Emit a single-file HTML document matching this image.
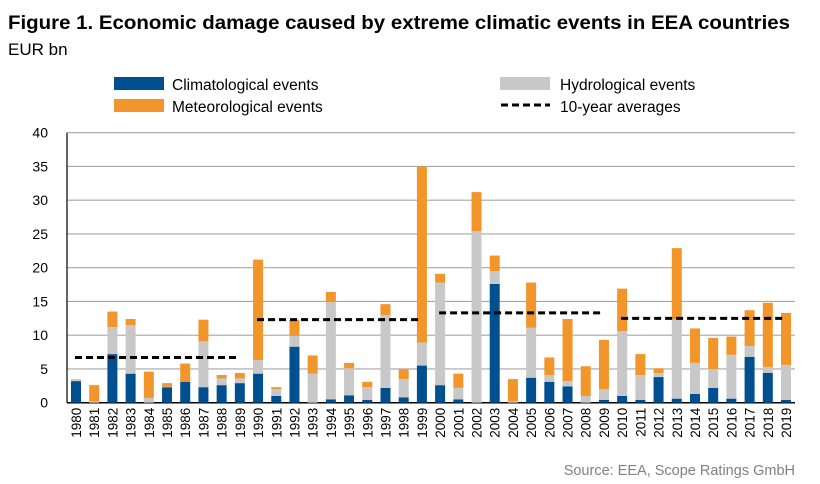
<!DOCTYPE html>
<html><head><meta charset="utf-8"><style>
body{margin:0;background:#fff;font-family:"Liberation Sans",Arial,sans-serif;}
svg{display:block}
</style></head><body>
<svg id="c" width="820" height="484">
<text x="8" y="29" font-size="19" font-weight="bold" fill="#000" textLength="782" lengthAdjust="spacingAndGlyphs">Figure 1. Economic damage caused by extreme climatic events in EEA countries</text>
<text x="8" y="55" font-size="17" fill="#000">EUR bn</text>
<g>
<rect x="114" y="77" width="50" height="13" fill="#004f8f"/>
<text x="172" y="90" font-size="15.5">Climatological events</text>
<rect x="114" y="99" width="50" height="13" fill="#f2952b"/>
<text x="172" y="112" font-size="15.5">Meteorological events</text>
<rect x="500" y="77" width="50" height="13" fill="#c8c8c8"/>
<text x="560" y="90" font-size="15.5">Hydrological events</text>
<line x1="501" y1="105" x2="550" y2="105" stroke="#000" stroke-width="3" stroke-dasharray="7,4"/>
<text x="560" y="112" font-size="15.5">10-year averages</text>
</g>
<g id="plot"></g>
<text x="795" y="475" font-size="14.5" fill="#808080" text-anchor="end">Source: EEA, Scope Ratings GmbH</text>
</svg>
<script>
const years=[1980,1981,1982,1983,1984,1985,1986,1987,1988,1989,1990,1991,1992,1993,1994,1995,1996,1997,1998,1999,2000,2001,2002,2003,2004,2005,2006,2007,2008,2009,2010,2011,2012,2013,2014,2015,2016,2017,2018,2019];
const climatological=[3.2,0,7.2,4.3,0,2.3,3.1,2.3,2.6,2.9,4.3,1.0,8.3,0,0.5,1.1,0.4,2.2,0.8,5.5,2.6,0.5,0,17.6,0,3.7,3.1,2.4,0,0.4,1.0,0.4,3.8,0.6,1.3,2.2,0.6,6.8,4.4,0.4];
const hydrological=[0.3,0.2,4.0,7.2,0.7,0.1,0,6.8,1.0,0.7,2.0,1.0,1.6,4.3,14.4,4.0,1.9,10.8,2.7,3.4,15.2,1.7,25.4,1.9,0.2,7.4,1.0,0.8,1.0,1.6,9.6,3.7,0.6,11.7,4.6,2.8,6.5,1.6,0.9,5.2];
const meteorological=[0,2.4,2.3,0.9,3.9,0.5,2.7,3.2,0.5,0.8,14.9,0.3,2.4,2.7,1.5,0.8,0.8,1.6,1.5,26.1,1.3,2.1,5.8,2.3,3.3,6.7,2.6,9.2,4.4,7.3,6.3,3.1,0.7,10.6,5.1,4.6,2.7,5.3,9.5,7.7];
const avgPeriods=[[1980,1989],[1990,1999],[2000,2009],[2010,2019]];
const avgValues=[6.7,12.3,13.3,12.5];
const yTicks=[0,5,10,15,20,25,30,35,40];
const NS="http://www.w3.org/2000/svg";
const g=document.getElementById('plot');
const x0=67,x1=795,yB=402.7,yT=132.7;
const step=(786-76)/39;
function xs(i){return 76+i*step;}
function ys(v){return yB-(v/40)*(yB-yT);}
function mk(t,a){const e=document.createElementNS(NS,t);for(const k in a)e.setAttribute(k,a[k]);g.appendChild(e);return e;}
yTicks.forEach(v=>{
  const l=mk('line',{x1:x0,x2:x1,y1:ys(v),y2:ys(v),stroke:v===0?'#000':'#a6a6a6','stroke-width':v===0?1.5:1.2});
  
  
  const t=mk('text',{x:48,y:ys(v)+5,'font-size':14,'text-anchor':'end'});
  t.textContent=v;
  
  
});
const ax=mk('line',{x1:x0,x2:x0,y1:yT,y2:yB,stroke:'#000','stroke-width':1.2});


const bw=10;
years.forEach((yr,i)=>{
  let base=0;
  [[climatological,'#004f8f','climatological'],[hydrological,'#c8c8c8','hydrological'],[meteorological,'#f2952b','meteorological']].forEach(([arr,col,nm])=>{
    const v=arr[i];
    if(v>0){
      const r=mk('rect',{x:xs(i)-bw/2,y:ys(base+v),width:bw,height:ys(base)-ys(base+v),fill:col});
      
      
    }
    base+=v;
  });
  const t=mk('text',{x:0,y:0,'font-size':13.5,'text-anchor':'end',transform:`translate(${xs(i)+5},${yB+5}) rotate(-90)`});
  t.textContent=yr;
  
  
});
avgPeriods.forEach((p,k)=>{
  const i0=years.indexOf(p[0]),i1=years.indexOf(p[1]);
  const l=mk('line',{x1:xs(i0)-1,x2:xs(i1)-1,y1:ys(avgValues[k]),y2:ys(avgValues[k]),stroke:'#000','stroke-width':3,'stroke-dasharray':'7,4'});
  
  
});
</script>
</body></html>
